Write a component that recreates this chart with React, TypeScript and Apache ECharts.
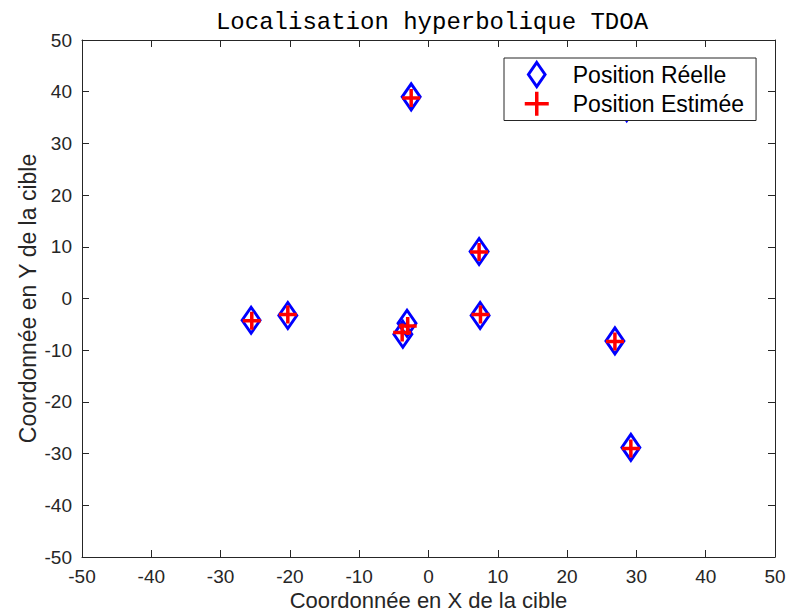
import React, { useEffect, useRef } from "react";
import * as echarts from "echarts";

const titleText = "Localisation hyperbolique TDOA";
const xName = "Coordonnée en X de la cible";
const yName = "Coordonnée en Y de la cible";
const realName = "Position Réelle";
const estName = "Position Estimée";

const realX = [-25.6, -20.3, -3.7, -3.1, -2.5, 7.3, 7.45, 26.9, 29.2, 28.6];
const realY = [-4.2, -3.3, -6.9, -4.8, 39.0, 9.1, -3.3, -8.2, -28.8, 36.9];
const estX = [-25.5, -20.3, -3.8, -3.0, -2.5, 7.3, 7.5, 26.9, 29.2, 28.6];
const estY = [-4.3, -3.1, -6.6, -5.3, 38.8, 9.0, -3.1, -8.3, -29.0, 36.9];

const DIAMOND = "path://M9,0 L18,13 L9,26 L0,13 Z";
const CROSS = "path://M0,9 L18,9 M9,0 L9,18";

export default function App() {
  const ref = useRef<HTMLDivElement>(null);
  useEffect(() => {
    if (!ref.current) return;
    const chart = echarts.init(ref.current, undefined, { renderer: "svg" });
    const axisColor = "#262626";
    const labelStyle = { color: axisColor, fontSize: 19, lineHeight: 19, fontFamily: "Liberation Sans" };
    const baseAxis = {
      type: "value",
      min: -50,
      max: 50,
      interval: 10,
      splitLine: { show: false },
      axisLine: { show: true, onZero: false, lineStyle: { color: axisColor, width: 1 } },
      axisTick: { show: true, inside: true, length: 7, lineStyle: { color: axisColor } },
    };
    chart.setOption({
      animation: false,
      backgroundColor: "#ffffff",
      title: {
        text: titleText,
        left: 427,
        textAlign: "center",
        top: 5,
        textStyle: { fontFamily: "Liberation Mono", fontSize: 24, fontWeight: "normal", color: "#000" },
      },
      grid: { left: 82, right: 12, top: 40, bottom: 55, outerBoundsMode: "none", containLabel: false },
      legend: {
        orient: "vertical",
        left: 504,
        top: 58,
        width: 255,
        padding: [3, 12, 3, 19],
        itemGap: 2,
        itemWidth: 36,
        itemHeight: 24,
        backgroundColor: "#ffffff",
        borderColor: axisColor,
        borderWidth: 1,
        textStyle: { fontSize: 23, fontFamily: "Liberation Sans", color: "#000", padding: [0, 0, 0, 13] },
        data: [
          { name: realName, icon: DIAMOND, itemStyle: { color: "transparent", borderColor: "#0000ff", borderWidth: 3, opacity: 1 } },
          { name: estName, icon: CROSS, itemStyle: { color: "transparent", borderColor: "#ff0000", borderWidth: 3.5, opacity: 1 } },
        ],
      },
      xAxis: [
        {
          ...baseAxis,
          position: "bottom",
          name: xName,
          nameLocation: "middle",
          nameGap: 32,
          nameMoveOverlap: false,
          nameTextStyle: { fontSize: 22, lineHeight: 22, fontFamily: "Liberation Sans", color: axisColor },
          axisLabel: { ...labelStyle, margin: 10 },
        },
        { ...baseAxis, position: "top", axisLabel: { show: false } },
      ],
      yAxis: [
        {
          ...baseAxis,
          position: "left",
          name: yName,
          nameLocation: "middle",
          nameGap: 43,
          nameMoveOverlap: false,
          nameTextStyle: { fontSize: 23, fontFamily: "Liberation Sans", color: axisColor },
          axisLabel: { ...labelStyle, margin: 10 },
        },
        { ...baseAxis, position: "right", axisLabel: { show: false } },
      ],
      series: [
        {
          name: realName,
          type: "scatter",
          symbol: DIAMOND,
          symbolSize: [18, 26],
          itemStyle: { color: "transparent", borderColor: "#0000ff", borderWidth: 3, opacity: 1 },
          data: realX.map((x, i) => [x, realY[i]]),
          z: 2,
        },
        {
          name: estName,
          type: "scatter",
          symbol: CROSS,
          symbolSize: 18,
          itemStyle: { color: "transparent", borderColor: "#ff0000", borderWidth: 3.5, opacity: 1 },
          data: estX.map((x, i) => [x, estY[i]]),
          z: 3,
        },
      ],
    });
    return () => chart.dispose();
  }, []);
  return <div ref={ref} style={{ width: 787, height: 612, position: "absolute", left: 0, top: 0 }} />;
}
